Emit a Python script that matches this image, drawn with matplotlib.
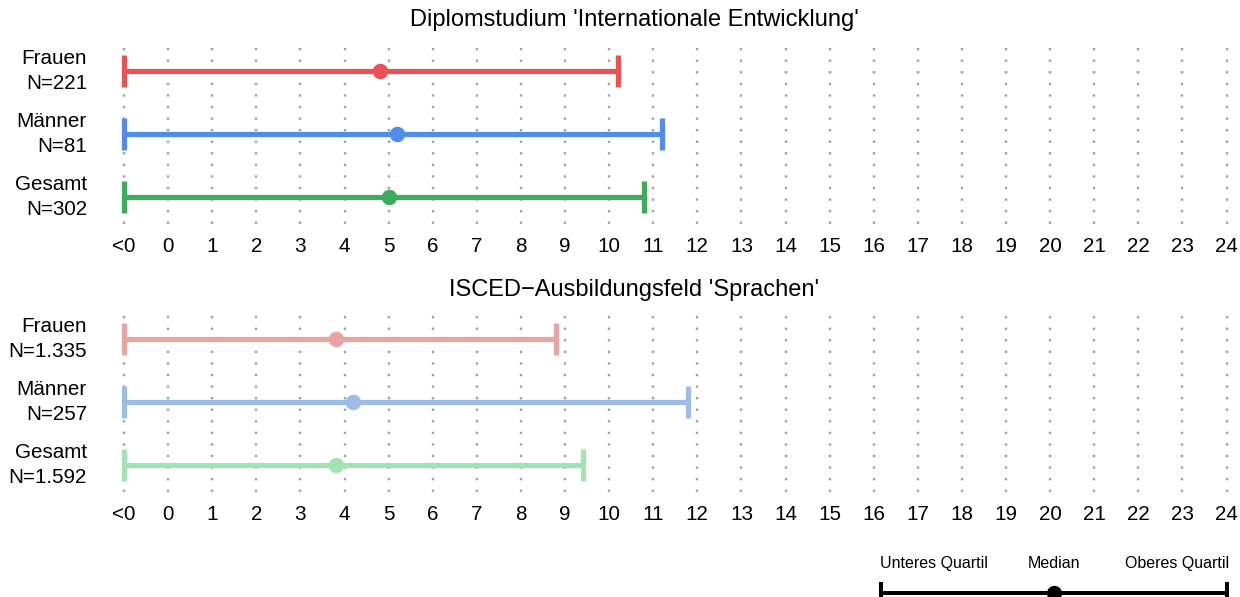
import matplotlib
matplotlib.use('Agg')
import matplotlib.pyplot as plt

plt.rcParams['font.family'] = ['Liberation Sans', 'DejaVu Sans']

# ---------------- data ----------------
x_ticks = list(range(-1, 25))
x_tick_labels = ['<0'] + [str(i) for i in range(25)]

groups = ['Frauen', 'Männer', 'Gesamt']

title1 = "Diplomstudium 'Internationale Entwicklung'"
n1 = ['221', '81', '302']
lower1 = [-1, -1, -1]
median1 = [4.8, 5.2, 5.0]
upper1 = [10.2, 11.2, 10.8]
colors1 = ['#E85353', '#508DEB', '#3DAA5C']

title2 = "ISCED\u2212Ausbildungsfeld 'Sprachen'"
n2 = ['1.335', '257', '1.592']
lower2 = [-1, -1, -1]
median2 = [3.8, 4.2, 3.8]
upper2 = [8.8, 11.8, 9.4]
colors2 = ['#E8A3A3', '#9EBDE6', '#A3E3B3']

legend_labels = ['Unteres Quartil', 'Median', 'Oberes Quartil']

# ---------------- layout helpers ----------------
W, H = 1240, 597
PX_UNIT = 44.1      # pixels per x unit
X0_PX = 124.0       # pixel of x = -1
ROW_PX = 63.0       # pixels between rows

fig = plt.figure(figsize=(W / 100, H / 100), dpi=100)

LW = 5.2 * 0.72
CAP_MS = 32 * 0.72
DOT_MS = 15.5 * 0.72


def add_panel(row0_px, title, title_px, ns, lower, median, upper, colors):
    top_px = row0_px - 31
    bottom_px = row0_px + 160
    ax = fig.add_axes([100 / W, 1 - bottom_px / H, 1140 / W, (bottom_px - top_px) / H])
    ax.set_xlim(-1 + (100 - X0_PX) / PX_UNIT, -1 + (1240 - X0_PX) / PX_UNIT)
    ax.set_ylim((bottom_px - row0_px) / ROW_PX, (top_px - row0_px) / ROW_PX)
    for s in ax.spines.values():
        s.set_visible(False)

    # dotted vertical grid
    g_top = -23 / ROW_PX
    g_bot = 2 + 27 / ROW_PX
    for xt in x_ticks:
        ax.plot([xt, xt], [g_top, g_bot], color='#A0A0A0', lw=1.7,
                linestyle=(0, (1, 3.9)), dash_capstyle='butt', zorder=1)

    ys = list(range(len(groups)))
    for y, lo, me, hi, c in zip(ys, lower, median, upper, colors):
        ax.plot([lo, hi], [y, y], color=c, lw=LW, solid_capstyle='butt',
                marker='|', ms=CAP_MS, mew=LW, zorder=3, clip_on=False)
        ax.plot([me], [y], 'o', color=c, ms=DOT_MS, mew=0, zorder=4)

    ax.set_xticks(x_ticks, x_tick_labels)
    ax.tick_params(axis='x', length=0, pad=4, labelsize=14.9)
    ax.set_yticks(ys, [f'{g}\nN={n}' for g, n in zip(groups, ns)])
    ax.tick_params(axis='y', length=0, pad=9.4, labelsize=14.9)
    for lab in ax.get_yticklabels():
        lab.set_verticalalignment('center')
        lab.set_linespacing(1.36)

    fig.text(634 / W, 1 - title_px / H, title, ha='center', va='center', fontsize=17)
    return ax


add_panel(71, title1, 20, n1, lower1, median1, upper1, colors1)
add_panel(339, title2, 290, n2, lower2, median2, upper2, colors2)

# ---------------- legend key ----------------
lax = fig.add_axes([860 / W, 0, 380 / W, 57 / H])
unit = 173.0
lax.set_xlim((860 - 881) / unit, (1240 - 881) / unit)
lax.set_ylim((592.7 - 597) / 29.7, (592.7 - 540) / 29.7)
lax.axis('off')
key_x = [0, 1, 2]
lax.plot([key_x[0], key_x[2]], [0, 0], color='black', lw=2.9, solid_capstyle='butt',
         marker='|', ms=15.4, mew=2.9, clip_on=False)
lax.plot([key_x[1]], [0], 'o', color='black', ms=11, mew=0)
for xk, lab, ha in zip(key_x, legend_labels, ['left', 'center', 'right']):
    lax.text(xk + (-0.006 if ha == 'left' else 0.01 if ha == 'right' else 0), 0.97, lab,
             ha=ha, va='center', fontsize=11.5)

fig.savefig('out.png', dpi=100)
